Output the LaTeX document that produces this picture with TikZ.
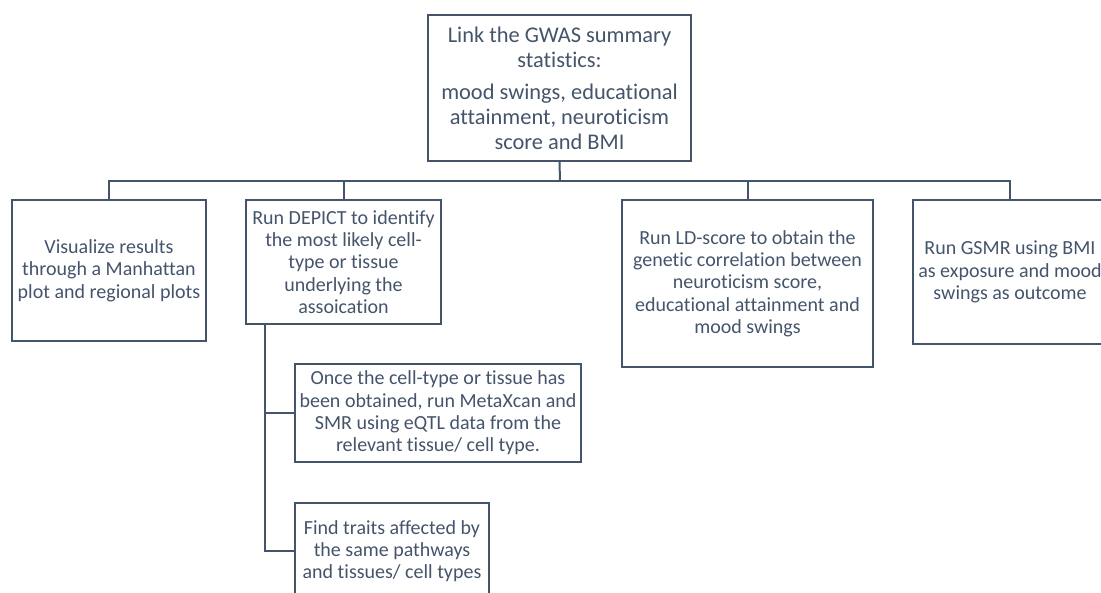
\documentclass[tikz,border=0pt]{standalone}
\usepackage{fontspec}
\setmainfont{Carlito}[Ligatures=NoCommon]
\definecolor{slate}{HTML}{44546A}
\begin{document}
\begin{tikzpicture}[x=1pt,y=-1pt,
  box/.style={draw=slate,line width=1.8pt,text=slate,align=center,inner sep=0pt,
    font=\fontsize{20}{22.3}\selectfont},
  link/.style={draw=slate,line width=2pt}]
\useasboundingbox (0,0) rectangle (1101,593);
\clip (0,0) rectangle (1101,593);
\node[box,minimum width=263,minimum height=146,font=\fontsize{22.4}{25}\selectfont] (gwas) at (559.5,88)
  {Link the GWAS summary\\statistics:\\[7pt]mood swings, educational\\attainment, neuroticism\\score and BMI};
\node[box,minimum width=194,minimum height=141] (visual) at (109,270.5)
  {Visualize results\\through a Manhattan\\plot and regional plots};
\node[box,minimum width=195,minimum height=124] (depict) at (343.5,262)
  {Run DEPICT to identify\\the most likely cell-\\type or tissue\\underlying the\\assoication};
\node[box,minimum width=251,minimum height=167] (ldscore) at (747.5,283.5)
  {Run LD-score to obtain the\\genetic correlation between\\neuroticism score,\\educational attainment and\\mood swings};
\node[box,minimum width=194,minimum height=144] (gsmr) at (1010,272)
  {Run GSMR using BMI\\as exposure and mood\\swings as outcome};
\node[box,minimum width=286,minimum height=98] (metaxcan) at (438,413)
  {Once the cell-type or tissue has\\been obtained, run MetaXcan and\\SMR using eQTL data from the\\relevant tissue/ cell type.};
\node[box,minimum width=194,minimum height=96] (traits) at (392,551)
  {Find traits affected by\\the same pathways\\and tissues/ cell types};
\coordinate (hub) at (560,181);
\coordinate (spine) at ([xshift=20pt]depict.south west);
\draw[link] (gwas.south) -- (hub);
\draw[link] (visual.north) |- (hub) -| (gsmr.north);
\draw[link] (depict.north) -- (depict.north |- hub);
\draw[link] (ldscore.north) -- (ldscore.north |- hub);
\draw[link] (spine) |- (metaxcan.west);
\draw[link] (spine) |- (traits.west);
\end{tikzpicture}
\end{document}
